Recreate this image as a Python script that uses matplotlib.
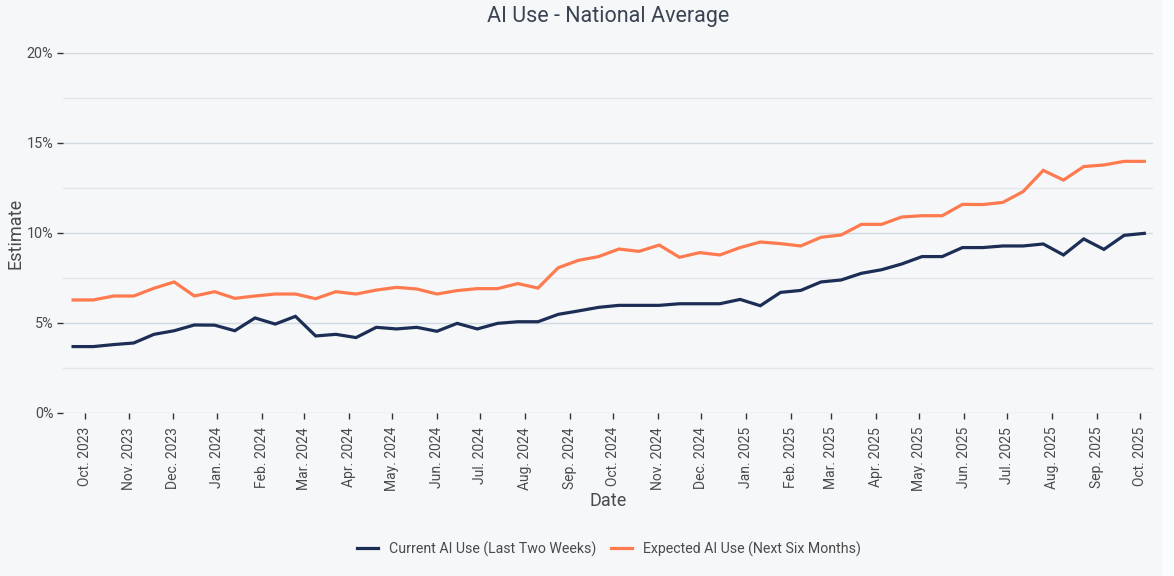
import numpy as np
import pandas as pd
import matplotlib
matplotlib.use("Agg")
import matplotlib.pyplot as plt
import matplotlib.dates as mdates
from matplotlib.patches import Rectangle

# biweekly survey waves
dates = pd.date_range("2023-09-23", periods=54, freq="14D")

current_use = [3.69, 3.69, 3.80, 3.89, 4.37, 4.57, 4.89, 4.88, 4.57, 5.28,
               4.94, 5.37, 4.28, 4.37, 4.19, 4.76, 4.67, 4.76, 4.54, 4.98,
               4.67, 4.98, 5.07, 5.07, 5.48, 5.67, 5.87, 5.98, 5.98, 5.98,
               6.07, 6.07, 6.07, 6.31, 5.96, 6.70, 6.81, 7.28, 7.39, 7.76,
               7.96, 8.28, 8.69, 8.69, 9.19, 9.19, 9.28, 9.28, 9.39, 8.78,
               9.67, 9.09, 9.87, 9.98]

expected_use = [6.28, 6.28, 6.50, 6.50, 6.93, 7.28, 6.50, 6.74, 6.37, 6.50,
                6.61, 6.61, 6.35, 6.74, 6.61, 6.83, 6.98, 6.89, 6.61, 6.80,
                6.91, 6.91, 7.19, 6.94, 8.07, 8.48, 8.69, 9.11, 8.98, 9.33,
                8.65, 8.91, 8.78, 9.19, 9.50, 9.41, 9.28, 9.76, 9.89, 10.48,
                10.48, 10.89, 10.96, 10.96, 11.59, 11.58, 11.70, 12.30, 13.48, 12.94,
                13.69, 13.78, 13.98, 13.98]

tick_dates = pd.date_range("2023-10-01", "2025-10-01", freq="MS")
tick_labels = [d.strftime("%b") + ". " + d.strftime("%Y") for d in tick_dates]
y_ticks = [0, 5, 10, 15, 20]
y_labels = ["0%", "5%", "10%", "15%", "20%"]

series_names = ["Current AI Use (Last Two Weeks)", "Expected AI Use (Next Six Months)"]
navy = "#1c2e55"
coral = "#ff7b4f"
bg = "#f5f7f9"
text_col = "#4a4a4a"

plt.rcParams["font.family"] = ["Roboto", "DejaVu Sans"]

fig = plt.figure(figsize=(11.74, 5.76), dpi=100, facecolor=bg)
fig.patches.append(Rectangle((1162 / 1174, 0), 1 - 1162 / 1174, 1,
                             transform=fig.transFigure, color="#fbfcfd", zorder=-1))
ax = fig.add_axes([63 / 1174, 1 - 413 / 576, 1090 / 1174, 360 / 576])
ax.set_facecolor(bg)

ax.plot(dates, current_use, color=navy, lw=2.3, label=series_names[0], solid_joinstyle="miter")
ax.plot(dates, expected_use, color=coral, lw=2.3, label=series_names[1], solid_joinstyle="miter")

ax.set_ylim(0, 20)
ax.set_xlim(pd.Timestamp("2023-09-16"), pd.Timestamp("2025-10-10"))

ax.set_yticks(y_ticks)
ax.set_yticklabels(y_labels)
ax.set_yticks([2.5, 7.5, 12.5, 17.5], minor=True)
ax.grid(axis="y", which="major", color="#d2dae1", lw=1.0)
ax.grid(axis="y", which="minor", color="#e2e7ec", lw=1.0)
ax.set_axisbelow(True)

ax.set_xticks(tick_dates)
ax.set_xticklabels(tick_labels, rotation=90)

for s in ax.spines.values():
    s.set_visible(False)
ax.tick_params(axis="both", which="major", length=4, width=1, color="#333333",
               labelsize=10, labelcolor=text_col, pad=3)
ax.tick_params(axis="y", which="major", labelsize=10.4)
ax.tick_params(axis="x", which="major", pad=6)
ax.tick_params(axis="y", which="minor", length=0)

ax.set_title("AI Use - National Average", fontsize=15.5, color="#3a4350", pad=22)
ax.set_xlabel("Date", fontsize=13, color=text_col)
ax.set_ylabel("Estimate", fontsize=13, color=text_col)
ax.xaxis.set_label_coords(0.5, -0.22)
ax.yaxis.set_label_coords(-0.035, 0.5)

fig.legend(loc="center", bbox_to_anchor=(609 / 1174, 0.047), ncol=2, frameon=False,
           fontsize=10.2, handlelength=1.5, handletextpad=0.8, columnspacing=1.0,
           labelcolor=text_col)

fig.savefig("out.png", dpi=100, facecolor=bg)
